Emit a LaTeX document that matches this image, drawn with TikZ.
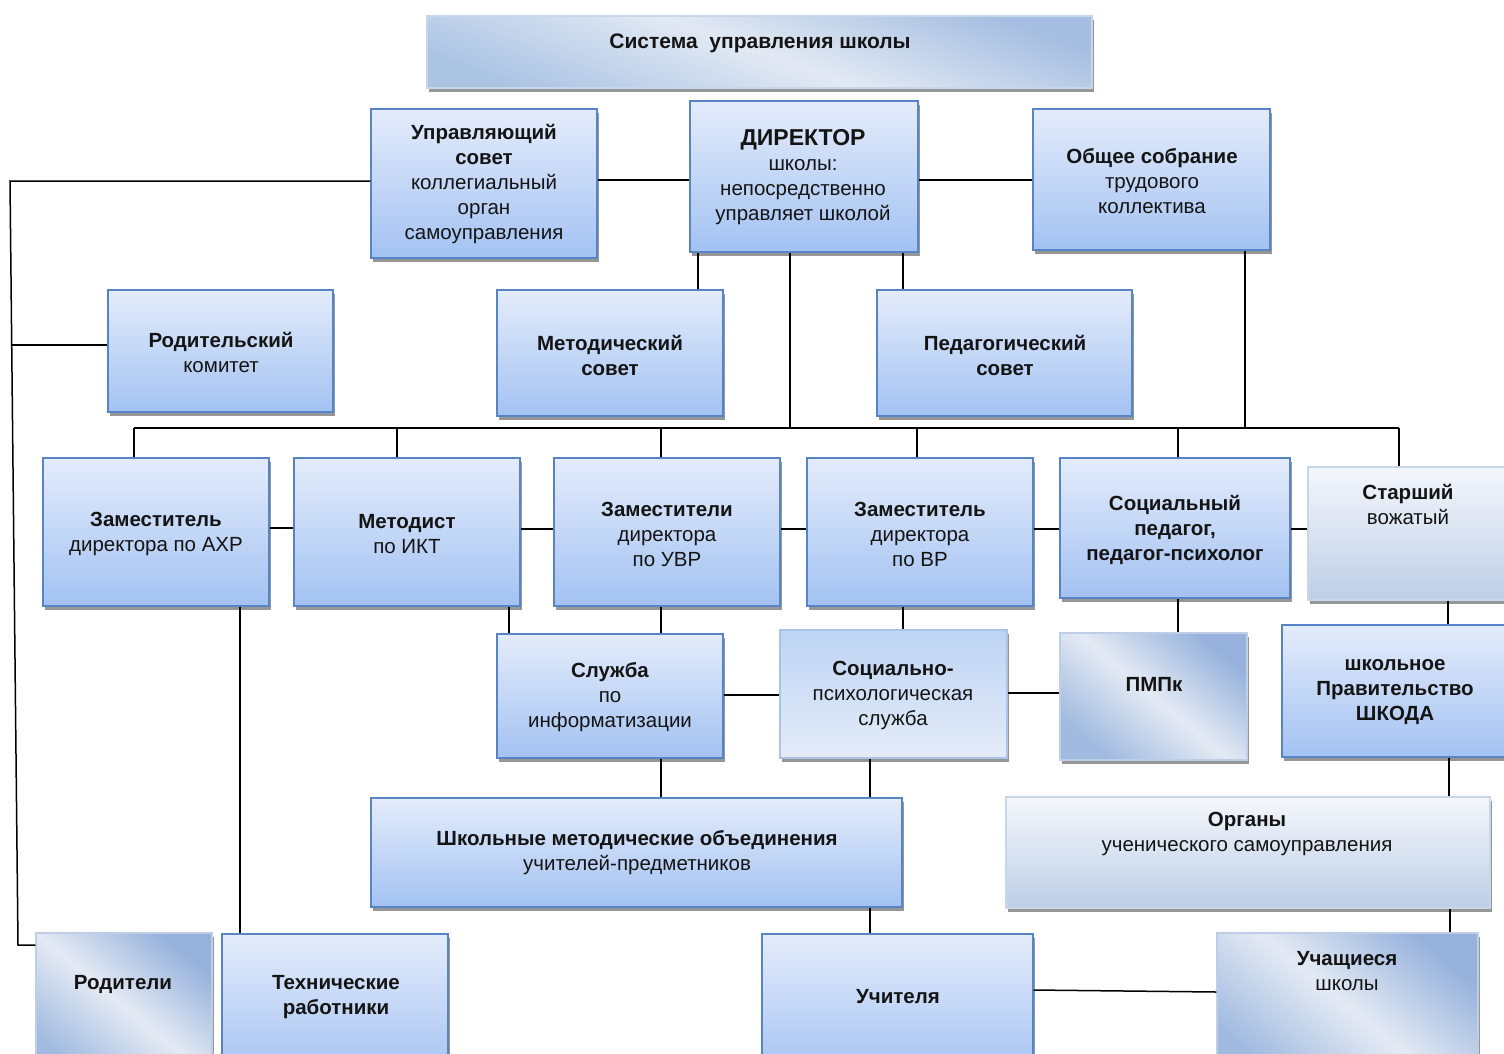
\documentclass[tikz,border=0pt]{standalone}
\usepackage{fontspec}
\setmainfont{Liberation Sans}
\usetikzlibrary{fit,shadows}
\definecolor{bord}{RGB}{86,132,198}
\definecolor{btop}{RGB}{228,236,251}
\definecolor{bbot}{RGB}{163,194,242}
\definecolor{shgray}{RGB}{150,150,150}
\definecolor{txt}{RGB}{20,20,20}
\definecolor{dgA}{RGB}{150,178,220}
\definecolor{dgB}{RGB}{160,186,224}
\definecolor{dgM}{RGB}{228,234,244}
\definecolor{tgA}{RGB}{166,190,225}
\definecolor{tgB}{RGB}{172,196,228}
\definecolor{tgM}{RGB}{226,233,243}
\begin{document}
\begin{tikzpicture}[x=1pt,y=-1pt,
  boxbase/.style={inner sep=0pt, line width=1.2pt,
    drop shadow={shadow xshift=2pt,shadow yshift=-4pt,fill=shgray,opacity=1}},
  box/.style={boxbase, draw=bord, top color=btop, bottom color=bbot},
  titlebox/.style={boxbase, draw={rgb,255:red,200;green,214;blue,234}, left color=tgA, right color=tgB, middle color=tgM, shading angle=-20},
  palebox/.style={boxbase, draw={rgb,255:red,200;green,214;blue,234}, top color={rgb,255:red,244;green,247;blue,252}, bottom color={rgb,255:red,190;green,206;blue,230}},
  softbox/.style={boxbase, draw={rgb,255:red,170;green,195;blue,230}, top color={rgb,255:red,190;green,212;blue,244}, bottom color={rgb,255:red,228;green,236;blue,248}},
  diagbox/.style={boxbase, draw={rgb,255:red,190;green,206;blue,230}, left color=dgA, right color=dgB, middle color=dgM, shading angle=-40},
  t/.style={align=center, inner sep=0pt, text=txt, yshift=-2pt, font=\fontsize{20.5}{25}\selectfont},
  conn/.style={draw=black, line width=1.5pt}]
\useasboundingbox (0,0) rectangle (1504,1053);
\clip (0,0) rectangle (1504,1053);
\fill[white] (0,0) rectangle (1504,1053);

% boxes
\node[titlebox, fit={(427,16) (1092,88)}] (title) {};
\node[box, fit={(371,109) (597,258)}] (us) {};
\node[box, fit={(690,101) (918,252)}] (dir) {};
\node[box, fit={(1033,109) (1270,250)}] (os) {};
\node[box, fit={(108,290) (333,412)}] (rk) {};
\node[box, fit={(497,290) (723,416)}] (ms) {};
\node[box, fit={(877,290) (1132,416)}] (ps) {};
\node[box, fit={(43,458) (269,606)}] (ahr) {};
\node[box, fit={(294,458) (520,606)}] (ikt) {};
\node[box, fit={(554,458) (780,606)}] (uvr) {};
\node[box, fit={(807,458) (1033,606)}] (vr) {};
\node[box, fit={(1060,458) (1290,598)}] (sp) {};
\node[palebox, fit={(1308,467) (1520,600)}] (sv) {};
\node[box, fit={(497,634) (723,758)}] (si) {};
\node[softbox, fit={(780,630) (1007,758)}] (spsl) {};
\node[diagbox, fit={(1060,633) (1247,760)}] (pmpk) {};
\node[box, fit={(1282,625) (1520,757)}] (shk) {};
\node[box, fit={(371,798) (902,907)}] (shmo) {};
\node[palebox, fit={(1006,797) (1490,908)}] (org) {};
\node[diagbox, fit={(36,933) (212,1080)}] (rod) {};
\node[box, fit={(222,934) (448,1080)}] (tech) {};
\node[box, fit={(762,934) (1033,1080)}] (uch) {};
\node[diagbox, fit={(1217,933) (1478,1080)}] (uchs) {};

% texts
\node[t, font=\fontsize{21}{25}\selectfont\bfseries] at (760,41) {Система\ \ управления школы};
\node[t] at (484,182) {\textbf{Управляющий}\\\textbf{совет}\\коллегиальный\\орган\\самоуправления};
\node[t] at (803,175) {{\fontsize{23}{25}\selectfont\textbf{ДИРЕКТОР}}\\школы:\\непосредственно\\управляет школой};
\node[t] at (1152,179) {\textbf{Общее собрание}\\трудового\\коллектива};
\node[t] at (221,350) {\textbf{Родительский}\\комитет};
\node[t] at (610,353) {\textbf{Методический}\\\textbf{совет}};
\node[t] at (1005,353) {\textbf{Педагогический}\\\textbf{совет}};
\node[t] at (156,532) {\textbf{Заместитель}\\директора по АХР};
\node[t] at (407,532) {\textbf{Методист}\\по ИКТ};
\node[t] at (667,532) {\textbf{Заместители}\\директора\\по УВР};
\node[t] at (920,532) {\textbf{Заместитель}\\директора\\по ВР};
\node[t, font=\fontsize{20.5}{25}\selectfont\bfseries] at (1175,528) {Социальный\\педагог,\\педагог-психолог};
\node[t] at (1408,502) {\textbf{Старший}\\вожатый};
\node[t] at (610,695) {\textbf{Служба}\\по\\информатизации};
\node[t] at (893,693) {\textbf{Социально-}\\психологическая\\служба};
\node[t, font=\fontsize{20.5}{25}\selectfont\bfseries] at (1154,682) {ПМПк};
\node[t, font=\fontsize{20.5}{25}\selectfont\bfseries] at (1395,690) {школьное\\Правительство\\ШКОДА};
\node[t] at (637,851) {\textbf{Школьные методические объединения}\\учителей-предметников};
\node[t] at (1247,832) {\textbf{Органы}\\ученического самоуправления};
\node[t, font=\fontsize{20.5}{25}\selectfont\bfseries] at (123,982) {Родители};
\node[t, font=\fontsize{20.5}{25}\selectfont\bfseries] at (336,995) {Технические\\работники};
\node[t, font=\fontsize{20.5}{25}\selectfont\bfseries] at (898,995) {Учителя};
\node[t] at (1347,969) {\textbf{Учащиеся}\\школы};

% connectors
\coordinate (busL) at (134,428);
\coordinate (busR) at (1399,428);
\draw[conn] (us.west |- 0,181) -- (10,181) -- (18,945) -- (rod.west |- 0,945);
\draw[conn] (rk.west |- 0,345) -- (11.7,345);
\draw[conn] (us.east |- 0,180) -- (dir.west |- 0,180);
\draw[conn] (dir.east |- 0,180) -- (os.west |- 0,180);
\draw[conn] (dir.south -| 698,0) -- (ms.north -| 698,0);
\draw[conn] (dir.south -| 903,0) -- (ps.north -| 903,0);
\draw[conn] (dir.south -| 790,0) -- (busL -| 790,0);
\draw[conn] (os.south -| 1245,0) -- (busL -| 1245,0);
\draw[conn] (busL) -- (busR);
\foreach \xx/\nn in {134/ahr,397/ikt,661/uvr,917/vr,1178/sp,1399/sv}
  \draw[conn] (busL -| \xx,0) -- (\nn.north -| \xx,0);
\draw[conn] (ahr.east |- 0,528) -- (ikt.west |- 0,528);
\draw[conn] (ikt.east |- 0,529) -- (uvr.west |- 0,529);
\draw[conn] (uvr.east |- 0,529) -- (vr.west |- 0,529);
\draw[conn] (vr.east |- 0,529) -- (sp.west |- 0,529);
\draw[conn] (sp.east |- 0,529) -- (sv.west |- 0,529);
\draw[conn] (ikt.south -| 509,0) -- (si.north -| 509,0);
\draw[conn] (uvr.south -| 661,0) -- (si.north -| 661,0);
\draw[conn] (vr.south -| 903,0) -- (spsl.north -| 903,0);
\draw[conn] (sp.south -| 1178,0) -- (pmpk.north -| 1178,0);
\draw[conn] (sv.south -| 1448,0) -- (shk.north -| 1448,0);
\draw[conn] (si.east |- 0,695) -- (spsl.west |- 0,695);
\draw[conn] (spsl.east |- 0,693) -- (pmpk.west |- 0,693);
\draw[conn] (si.south -| 661,0) -- (shmo.north -| 661,0);
\draw[conn] (spsl.south -| 870,0) -- (shmo.north -| 870,0);
\draw[conn] (shk.south -| 1449,0) -- (org.north -| 1449,0);
\draw[conn] (org.south -| 1450,0) -- (uchs.north -| 1450,0);
\draw[conn] (shmo.south -| 870,0) -- (uch.north -| 870,0);
\draw[conn] (uch.east |- 0,990) -- (uchs.west |- 0,992);
\draw[conn] (ahr.south -| 240,0) -- (tech.north -| 240,0);
\end{tikzpicture}
\end{document}
